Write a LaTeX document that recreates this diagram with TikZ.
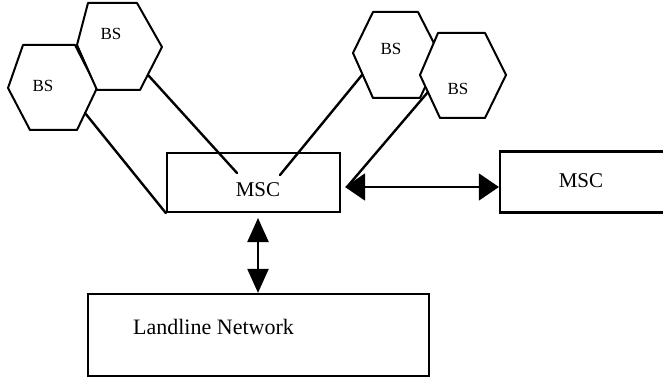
\documentclass[tikz,border=0pt]{standalone}
\usepackage{fontspec}
\setmainfont{Liberation Serif}
\usetikzlibrary{arrows.meta}
\begin{document}
\begin{tikzpicture}[x=1pt,y=-1pt,
  cell/.style={draw=black,line width=2pt,fill=white,line join=round},
  box/.style={draw=black,line width=2.2pt,fill=white,rectangle,inner sep=0pt},
  lbl/.style={inner sep=0pt,font=\fontsize{21}{24}\selectfont},
  bslbl/.style={inner sep=0pt,font=\fontsize{17}{20}\selectfont},
  link/.style={line width=2.4pt,line cap=round},
  vtip/.style={{Triangle[length=24pt,width=21pt]}-{Triangle[length=24pt,width=21pt]}},
  htip/.style={{Triangle[length=20pt,width=27pt]}-{Triangle[length=20pt,width=27pt]}}]
  \clip (0,0) rectangle (663,387);
  \fill[white] (0,0) rectangle (663,387);

  % base station cells
  \draw[cell] (23,45) -- (75,45) -- (97,88) -- (77,130) -- (30,130) -- (8,88) -- cycle;
  \draw[cell] (88,3) -- (137,3) -- (162,47) -- (140,90) -- (97,90) -- (77,45) -- cycle;
  \draw[cell] (373,12) -- (418,12) -- (440,55) -- (420,98) -- (373,98) -- (353,53) -- cycle;
  \draw[cell] (438,33) -- (485,33) -- (506,75) -- (485,118) -- (440,118) -- (420,75) -- cycle;
  \node[bslbl] (bs1) at (111,34) {BS};
  \node[bslbl] (bs2) at (43,86) {BS};
  \node[bslbl] (bs3) at (391,49) {BS};
  \node[bslbl] (bs4) at (458,89) {BS};

  % attachment points on the cell borders
  \coordinate (c1) at (148,75);
  \coordinate (c2) at (85,113);
  \coordinate (c3) at (362,75);
  \coordinate (c4) at (428,92);

  % switching centres and the fixed network
  \node[box,minimum width=173pt,minimum height=59pt] (msc1) at (253.5,182.5) {};
  \node[lbl] (msc1t) at (258,190) {MSC};
  \node[box,minimum width=200pt,minimum height=61pt] (msc2) at (600,182) {};
  \node[lbl] (msc2t) at (581,181) {MSC};
  \node[box,minimum width=341pt,minimum height=82pt] (land) at (258.5,335) {};
  \node[lbl,font=\fontsize{22}{25}\selectfont] (landt) at (213.5,327) {Landline Network};

  % cell-to-MSC links
  \coordinate (e1) at (237,173);
  \coordinate (e3) at (280,175);
  \coordinate (e4) at (347,187);
  \draw[link] (c2) -- (msc1.south west);
  \draw[link] (c1) -- (e1);
  \draw[link] (c3) -- (e3);
  \draw[link] (c4) -- (e4);

  % MSC-to-MSC and MSC-to-landline links
  \coordinate (hl) at (345,187);
  \draw[htip,line width=1.3pt] (hl) -- (hl -| msc2.west);
  \coordinate (vt) at (258,218);
  \draw[vtip,line width=2.2pt] (vt) -- (vt |- land.north);
\end{tikzpicture}
\end{document}
